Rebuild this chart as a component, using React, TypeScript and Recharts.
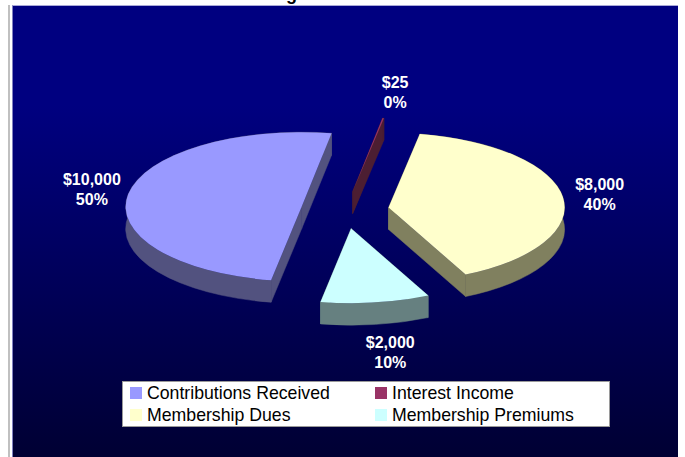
import React from 'react';
import { PieChart, Pie, Legend } from 'recharts';

const categories = ['Contributions Received', 'Interest Income', 'Membership Dues', 'Membership Premiums'];
const amounts = [10000, 25, 8000, 2000];
const amountLabels = ['$10,000', '$25', '$8,000', '$2,000'];
const percentLabels = ['50%', '0%', '40%', '10%'];
const topColors = ['#9999FF', '#993366', '#FFFFCC', '#CCFFFF'];
const sideColors = ['#52527F', '#4C1E32', '#80805F', '#668080'];

const W = 685, H = 457;
const SQUASH = 0.424, DEPTH = 22, EXPLODE = 44;
const FONT = '"Liberation Sans", Arial, sans-serif';

const data = categories.map((name, i) => ({
  name, value: amounts[i], fill: topColors[i], side: sideColors[i], amount: amountLabels[i], percent: percentLabels[i],
}));

function Slice3D(p: any) {
  const { cx, cy, outerRadius: r, startAngle, endAngle, payload } = p;
  const rad = Math.PI / 180;
  const mid = ((startAngle + endAngle) / 2) * rad;
  const ax = cx + EXPLODE * Math.cos(mid);
  const ay = cy - EXPLODE * SQUASH * Math.sin(mid);
  const ry = r * SQUASH;
  const pt = (a: number) => [ax + r * Math.cos(a * rad), ay - ry * Math.sin(a * rad)];
  const [sx, sy] = pt(startAngle);
  const [ex, ey] = pt(endAngle);
  const large = Math.abs(endAngle - startAngle) > 180 ? 1 : 0;
  const side = payload?.side ?? p.side;
  const arc = (dy: number) => `A${r},${ry} 0 ${large} 1 ${ex},${ey + dy}`;
  const band = `M${sx},${sy} ${arc(0)} L${ex},${ey + DEPTH} A${r},${ry} 0 ${large} 0 ${sx},${sy + DEPTH} Z`;
  const e1 = `M${ax},${ay} L${sx},${sy} L${sx},${sy + DEPTH} L${ax},${ay + DEPTH} Z`;
  const e2 = `M${ax},${ay} L${ex},${ey} L${ex},${ey + DEPTH} L${ax},${ay + DEPTH} Z`;
  const top = `M${ax},${ay} L${sx},${sy} ${arc(0)} Z`;
  return (
    <g>
      <path d={e1} fill={side} stroke={side} strokeWidth={0.5} />
      <path d={e2} fill={side} stroke={side} strokeWidth={0.5} />
      <path d={band} fill={side} stroke={side} strokeWidth={0.5} />
      <path d={top} fill={p.fill} />
    </g>
  );
}

function SliceLabel(p: any) {
  const { cx, cy, midAngle, payload } = p;
  const a = (midAngle * Math.PI) / 180;
  const s = Math.sin(a);
  const c = Math.cos(a);
  const x = cx + 3 + (c < 0 ? 260 : 254) * c + (s < 0 ? 7 : s > 0.5 ? 3 : 0);
  const y = cy + 1 - 120 * s + (s < 0 ? 23 : 0);
  return (
    <text x={x} y={y} textAnchor="middle" fill="#fff" fontFamily={FONT} fontWeight="bold" fontSize={16}>
      <tspan x={x} dy={-5}>{payload.amount}</tspan>
      <tspan x={x} dy={20}>{payload.percent}</tspan>
    </text>
  );
}

function LegendBox(props: any) {
  const items = props.payload ?? [];
  return (
    <div style={{
      position: 'absolute', left: 122, top: 381, width: 488, height: 46, boxSizing: 'border-box',
      background: '#fff', border: '1px solid #9a9a9a', fontFamily: FONT, fontSize: 17.7, color: '#000',
      display: 'grid', gridTemplateColumns: '245px 230px', gridAutoRows: '22px', padding: '0 0 0 7px',
    }}>
      {items.map((it: any) => (
        <div key={it.value} style={{ display: 'flex', alignItems: 'center', whiteSpace: 'nowrap' }}>
          <span style={{ width: 12, height: 12, background: it.payload?.fill ?? it.color, marginRight: 5 }} />
          {it.value}
        </div>
      ))}
    </div>
  );
}

export default function App() {
  return (
    <div style={{ position: 'absolute', left: 0, top: 0, width: W, height: H, background: '#fff', overflow: 'hidden' }}>
      <div style={{ position: 'absolute', left: 8, top: 5, width: 1.5, height: H, background: '#c0c0c0' }} />
      <div style={{
        position: 'absolute', left: 12, top: 5, width: 666, height: H - 5, boxSizing: 'border-box',
        borderTop: '1px solid #a9a9d8', borderLeft: '1px solid #8080c0',
        background: 'linear-gradient(#000080 0%, #000080 22%, #000033 100%)',
      }} />
      <div style={{ position: 'absolute', left: 286, top: -16, fontFamily: FONT, fontWeight: 'bold', fontSize: 18 }}>g</div>
      <div style={{ position: 'absolute', left: 0, top: 0 }}>
        <PieChart width={W} height={H} margin={{ top: 0, right: 0, bottom: 0, left: 0 }}>
          <Pie
            data={data}
            dataKey="value"
            nameKey="name"
            cx={345}
            cy={210}
            innerRadius={0}
            outerRadius={176}
            startAngle={-100}
            endAngle={-460}
            stroke="none"
            isAnimationActive={false}
            shape={Slice3D}
            label={SliceLabel}
            labelLine={false}
          />
          <Legend content={LegendBox} wrapperStyle={{ position: 'absolute', left: 0, top: 0, width: 0, height: 0 }} />
        </PieChart>
      </div>
    </div>
  );
}
